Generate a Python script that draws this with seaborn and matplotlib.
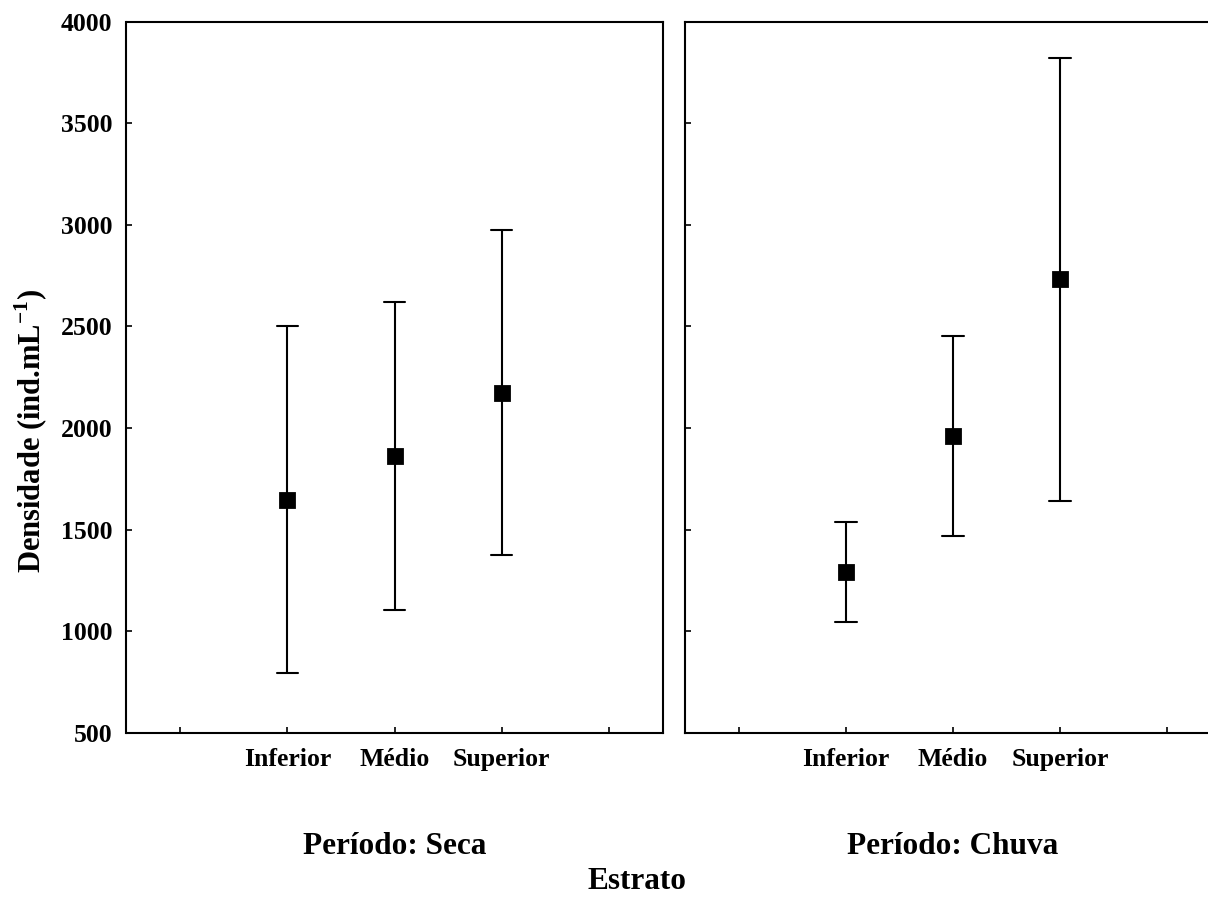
import numpy as np
import pandas as pd
import matplotlib
matplotlib.use('Agg')
import matplotlib.pyplot as plt
import seaborn as sns

# categories
estratos = ['Inferior', 'Médio', 'Superior']
periodos = ['Seca', 'Chuva']

# mean and interval limits (ind.mL-1)
seca_media = [1646, 1862, 2171]
seca_inf = [792, 1104, 1373]
seca_sup = [2504, 2622, 2975]
chuva_media = [1291, 1961, 2732]
chuva_inf = [1043, 1467, 1642]
chuva_sup = [1536, 2455, 3820]

series = {'Seca': (seca_media, seca_inf, seca_sup),
          'Chuva': (chuva_media, chuva_inf, chuva_sup)}

# long table: lower, mean, upper per cell -> median = mean, min/max = limits
rows = []
for per in periodos:
    med, lo, hi = series[per]
    for e, m, l, h in zip(estratos, med, lo, hi):
        for v in (l, m, h):
            rows.append({'Periodo': per, 'Estrato': e, 'Densidade': v})
df = pd.DataFrame(rows)

sns.set_theme(style='ticks')
plt.rcParams['font.family'] = ['Liberation Serif', 'DejaVu Serif']
plt.rcParams['font.weight'] = 'bold'
plt.rcParams['text.color'] = 'black'
plt.rcParams['mathtext.fontset'] = 'custom'
plt.rcParams['mathtext.rm'] = 'Liberation Serif:bold'
plt.rcParams['mathtext.bf'] = 'Liberation Serif:bold'

W, H = 1208, 897
fig = plt.figure(figsize=(W / 100, H / 100), dpi=100)
ax_bottom = 1 - 732.7 / H
ax_h = 711 / H
ax_w = 536 / W
lefts = [126.5 / W, 685 / W]
fs = 18.5

for i, per in enumerate(periodos):
    ax = fig.add_axes([lefts[i], ax_bottom, ax_w, ax_h])
    sns.pointplot(data=df[df['Periodo'] == per], x='Estrato', y='Densidade',
                  order=estratos, estimator='median',
                  errorbar=lambda v: (v.min(), v.max()),
                  color='black', marker='s', markersize=10, linestyle='none',
                  capsize=0.2, err_kws={'linewidth': 1.5}, ax=ax)
    ax.set_xlim(-1.5, 3.5)
    ax.set_xticks([-1, 0, 1, 2, 3])
    ax.set_xticklabels([''] + estratos + [''])
    ax.set_ylim(500, 4000)
    ax.set_yticks(np.arange(500, 4001, 500))
    ax.set_xlabel('')
    ax.set_ylabel('')
    ax.tick_params(direction='in', length=4.3, width=1.2, labelsize=fs,
                   color='black', labelcolor='black')
    ax.tick_params(axis='x', pad=11)
    ax.tick_params(axis='y', pad=10)
    for s in ax.spines.values():
        s.set_linewidth(1.5)
        s.set_color('black')
    if i == 1:
        ax.tick_params(labelleft=False)
    fig.text(lefts[i] + ax_w / 2, (H - 854) / H, 'Período: ' + per,
             ha='center', va='baseline', fontsize=22.5, fontweight='bold',
             color='black')

fig.text(31 / W, 1 - 431 / H, 'Densidade (ind.mL$^{-1}$)', rotation=90,
         ha='center', va='center', fontsize=22, fontweight='bold',
         color='black')
fig.text(637 / W, 1 / H, 'Estrato', ha='center', va='bottom',
         fontsize=22.5, fontweight='bold', color='black')

fig.savefig('out.png', dpi=100)
